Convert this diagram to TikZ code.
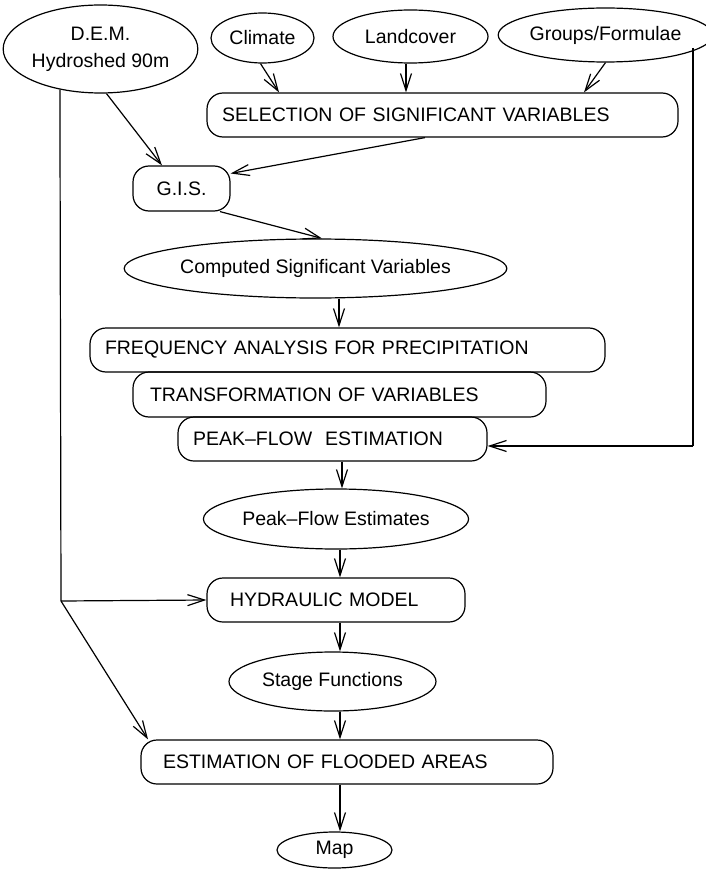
\documentclass[tikz,border=0pt]{standalone}
\usepackage{fontspec}
\setmainfont{Liberation Sans}
\usetikzlibrary{shapes.geometric,arrows.meta}
\begin{document}
\begin{tikzpicture}[x=1pt,y=-1pt,
  font=\fontsize{19.5}{27}\selectfont,
  every path/.style={line width=1.2pt},
  box/.style={draw, rounded corners=16pt, line width=1.2pt, minimum height=44pt, align=left, inner ysep=0pt},
  oval/.style={draw, ellipse, line width=1.2pt, inner sep=0pt, align=center},
  arr/.style={-{Straight Barb[length=17pt,width=11pt,line width=1.2pt]}, line width=1.2pt}]
\useasboundingbox (0,0) rectangle (705,869);
% ellipses
\node[oval, minimum width=185pt, minimum height=88pt] (dem) at (100.5,49) {D.E.M.\\Hydroshed 90m};
\node[oval, minimum width=103pt, minimum height=50pt] (climate) at (262.5,38) {Climate};
\node[oval, minimum width=155pt, minimum height=53pt] (land) at (410.5,36.5) {Landcover};
\node[oval, minimum width=197pt, minimum height=54pt] (groups) at (605.5,35) {Groups/Formulae};
\node[oval, minimum width=335pt, minimum height=59pt] (comp) at (315.5,268.5) {Computed Significant Variables};
\node[oval, minimum width=258pt, minimum height=60pt] (pfest) at (336,519) {Peak–Flow Estimates};
\node[oval, minimum width=207pt, minimum height=59pt] (stage) at (332.5,681.5) {Stage Functions};
\node[oval, minimum width=115pt, minimum height=36pt] (map) at (334.5,850) {Map};
% boxes
\node[box, text width=441pt, inner xsep=15pt] (sel) at (442.5,115) {SELECTION OF SIGNIFICANT VARIABLES};
\node[box, minimum width=97pt, minimum height=45pt, align=center, inner xsep=0pt] (gis) at (181.5,188.5) {G.I.S.};
\node[box, text width=485pt, inner xsep=15pt] (freq) at (347.5,350) {FREQUENCY ANALYSIS FOR PRECIPITATION};
\node[box, text width=379pt, inner xsep=17pt, minimum height=45pt] (trans) at (339.5,394.5) {TRANSFORMATION OF VARIABLES};
\node[box, text width=279pt, inner xsep=15pt] (pfe) at (332.5,439) {PEAK–FLOW\ \ ESTIMATION};
\node[box, text width=212pt, inner xsep=23pt] (hyd) at (336,600) {HYDRAULIC MODEL};
\node[box, text width=368pt, inner xsep=22pt] (flood) at (347,762) {ESTIMATION OF FLOODED AREAS};
% connectors
\draw[arr] ([xshift=6pt]dem.south) -- ([xshift=-19.5pt]gis.north);
\draw[arr] ([xshift=-2pt]climate.south) -- ([xshift=-163.5pt]sel.north);
\draw[arr] ([xshift=-4.5pt]land.south) -- ([xshift=-36.5pt]sel.north);
\draw[arr] (groups.south) -- ([xshift=141.5pt]sel.north);
\draw[arr] ([xshift=-17.5pt]sel.south) -- ([yshift=15pt]gis.east);
\draw[arr] ([xshift=38.5pt]gis.south) -- ([xshift=6.5pt]comp.north);
\draw[arr] ([xshift=23.5pt]comp.south) -- ([xshift=-8.5pt]freq.north);
\draw[arr] ([xshift=9.5pt]pfe.south) -- ([xshift=6pt]pfest.north);
\draw[arr] ([xshift=4pt]pfest.south) -- ([xshift=4pt]hyd.north);
\draw[arr] ([xshift=4pt]hyd.south) -- ([xshift=7.5pt]stage.north);
\draw[arr] ([xshift=7.5pt]stage.south) -- ([xshift=-7pt]flood.north);
\draw[arr] ([xshift=-7pt]flood.south) -- ([xshift=5.5pt]map.north);
\coordinate (j) at (61,601);
\draw (dem.-135) -- (j);
\draw[arr] (j) -- (hyd.west);
\draw[arr] (j) -- ([xshift=-199pt]flood.north);
\coordinate (gs) at ([xshift=87.5pt,yshift=-13pt]groups.center);
\coordinate (g) at (693,446);
\draw (gs) -- (gs |- g);
\draw[arr] (gs |- g) -- ([yshift=-7pt]pfe.east);
\end{tikzpicture}
\end{document}
